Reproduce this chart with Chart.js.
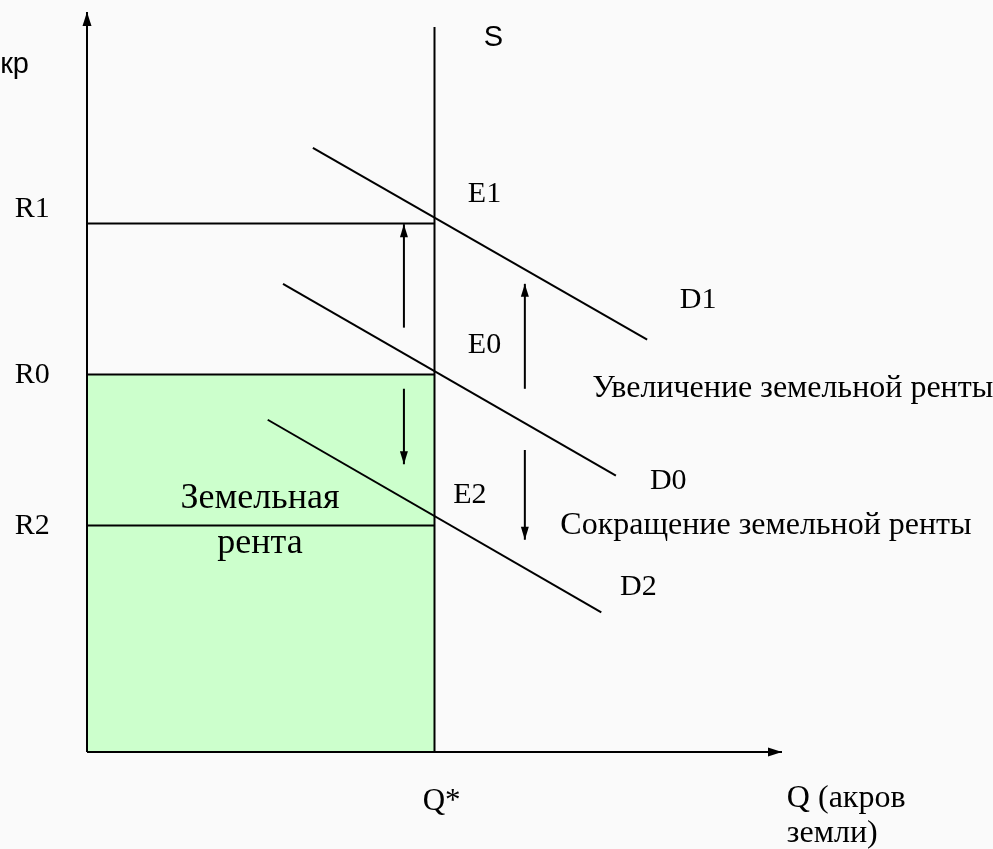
<!DOCTYPE html>
<html>
<head>
<meta charset="utf-8">
<script src="https://cdn.jsdelivr.net/npm/chart.js@4.4.0/dist/chart.umd.min.js"></script>
<style>
  html, body { margin: 0; padding: 0; background: #fafafa; }
</style>
</head>
<body>
<canvas id="chart" width="993" height="849"></canvas>
<script>
// quantity of land (fixed supply) and rent levels
const qStar = 5;
const qMax = 10;
const rMax = 9.8;
const rentLevels = [3, 5, 7];          // R2, R0, R1
const rentLabels = ['R2', 'R0', 'R1'];
const rentLabelY = [2.89, 4.89, 7.09];
const supplyTop = 9.6;

// demand curves [Q, R]
const demandD1 = [[3.25, 8.0], [8.06, 5.46]];
const demandD0 = [[2.82, 6.2], [7.61, 3.66]];
const demandD2 = [[2.6, 4.4], [7.4, 1.85]];

// shift arrows [Q, R] (last point = arrow tip)
const arrowUpLeft = [[4.56, 5.62], [4.56, 6.99]];
const arrowDownLeft = [[4.56, 4.81], [4.56, 3.81]];
const arrowUpRight = [[6.3, 4.81], [6.3, 6.2]];
const arrowDownRight = [[6.3, 4.0], [6.3, 2.81]];

const pts = arr => arr.map(p => ({ x: p[0], y: p[1] }));
const serif = size => size + 'px "Liberation Serif", "Times New Roman", serif';
const sans = '29px "Liberation Sans", Arial, sans-serif';

const textLabels = [
    { text: 'кр', x: -1.25, y: 8.99, font: sans },
    { text: 'S', x: 5.71, y: 9.35, font: sans },
    { text: 'E1', x: 5.48, y: 7.28, font: serif(30) },
    { text: 'E0', x: 5.48, y: 5.28, font: serif(30) },
    { text: 'E2', x: 5.27, y: 3.3, font: serif(30) },
    { text: 'D1', x: 8.53, y: 5.88, font: serif(30) },
    { text: 'D0', x: 8.1, y: 3.48, font: serif(30) },
    { text: 'D2', x: 7.67, y: 2.08, font: serif(30) },
    { text: 'Увеличение земельной ренты', x: 7.27, y: 4.7, font: serif(32) },
    { text: 'Сокращение земельной ренты', x: 6.81, y: 2.89, font: serif(32) },
    { text: 'Q*', x: 4.83, y: -0.77, font: serif(31) },
    { text: 'Q (акров', x: 10.07, y: -0.73, font: serif(32) },
    { text: 'земли)', x: 10.07, y: -1.19, font: serif(32) },
    { text: 'Земельная', x: 2.49, y: 3.23, font: serif(36), align: 'center' },
    { text: 'рента', x: 2.49, y: 2.64, font: serif(36), align: 'center' }
];
rentLabels.forEach((t, i) => textLabels.push({ text: t, x: -1.04, y: rentLabelY[i], font: serif(30) }));

function line(data, extra) {
    return Object.assign({
        data: pts(data),
        showLine: true,
        borderColor: '#000',
        borderWidth: 2,
        pointRadius: 0,
        fill: false,
        clip: false,
        order: 0
    }, extra || {});
}

const arrowHeads = {
    id: 'arrowHeads',
    afterDatasetsDraw(chart) {
        const ctx = chart.ctx;
        chart.data.datasets.forEach((ds, i) => {
            if (!ds.arrow) return;
            const el = chart.getDatasetMeta(i).data;
            const a = el[el.length - 2], b = el[el.length - 1];
            const ang = Math.atan2(b.y - a.y, b.x - a.x);
            const len = ds.arrow.len, w = ds.arrow.w;
            ctx.save();
            ctx.translate(b.x, b.y);
            ctx.rotate(ang);
            ctx.beginPath();
            ctx.moveTo(0, 0);
            ctx.lineTo(-len, -w / 2);
            ctx.lineTo(-len, w / 2);
            ctx.closePath();
            ctx.fillStyle = '#000';
            ctx.fill();
            ctx.restore();
        });
    }
};

const textPlugin = {
    id: 'textLabels',
    afterDraw(chart) {
        const ctx = chart.ctx;
        const xs = chart.scales.x, ys = chart.scales.y;
        ctx.save();
        ctx.fillStyle = '#000';
        ctx.textBaseline = 'alphabetic';
        textLabels.forEach(l => {
            ctx.font = l.font;
            ctx.textAlign = l.align || 'left';
            ctx.fillText(l.text, xs.getPixelForValue(l.x), ys.getPixelForValue(l.y));
        });
        ctx.restore();
    }
};

const bigArrow = { len: 14, w: 9 };
const smallArrow = { len: 13, w: 8 };

new Chart(document.getElementById('chart'), {
    type: 'scatter',
    data: {
        datasets: [
            line([[0, 0], [qMax, 0]], { arrow: bigArrow }),
            line([[0, 0], [0, rMax]], { arrow: bigArrow }),
            line([[qStar, 0], [qStar, supplyTop]]),
            line([[0, rentLevels[2]], [qStar, rentLevels[2]]]),
            line([[0, rentLevels[0]], [qStar, rentLevels[0]]]),
            line(demandD1),
            line(demandD0),
            line(demandD2),
            line(arrowUpLeft, { arrow: smallArrow }),
            line(arrowDownLeft, { arrow: smallArrow }),
            line(arrowUpRight, { arrow: smallArrow }),
            line(arrowDownRight, { arrow: smallArrow }),
            // land rent area under R0
            line([[0, rentLevels[1]], [qStar, rentLevels[1]]], {
                fill: 'origin',
                backgroundColor: '#ccffcc',
                order: 10
            })
        ]
    },
    options: {
        responsive: false,
        animation: false,
        layout: { padding: { left: 87, top: 12, right: 211, bottom: 97 } },
        scales: {
            x: { type: 'linear', min: 0, max: qMax, display: false },
            y: { type: 'linear', min: 0, max: rMax, display: false }
        },
        plugins: {
            legend: { display: false },
            tooltip: { enabled: false }
        }
    },
    plugins: [arrowHeads, textPlugin]
});
</script>
</body>
</html>
